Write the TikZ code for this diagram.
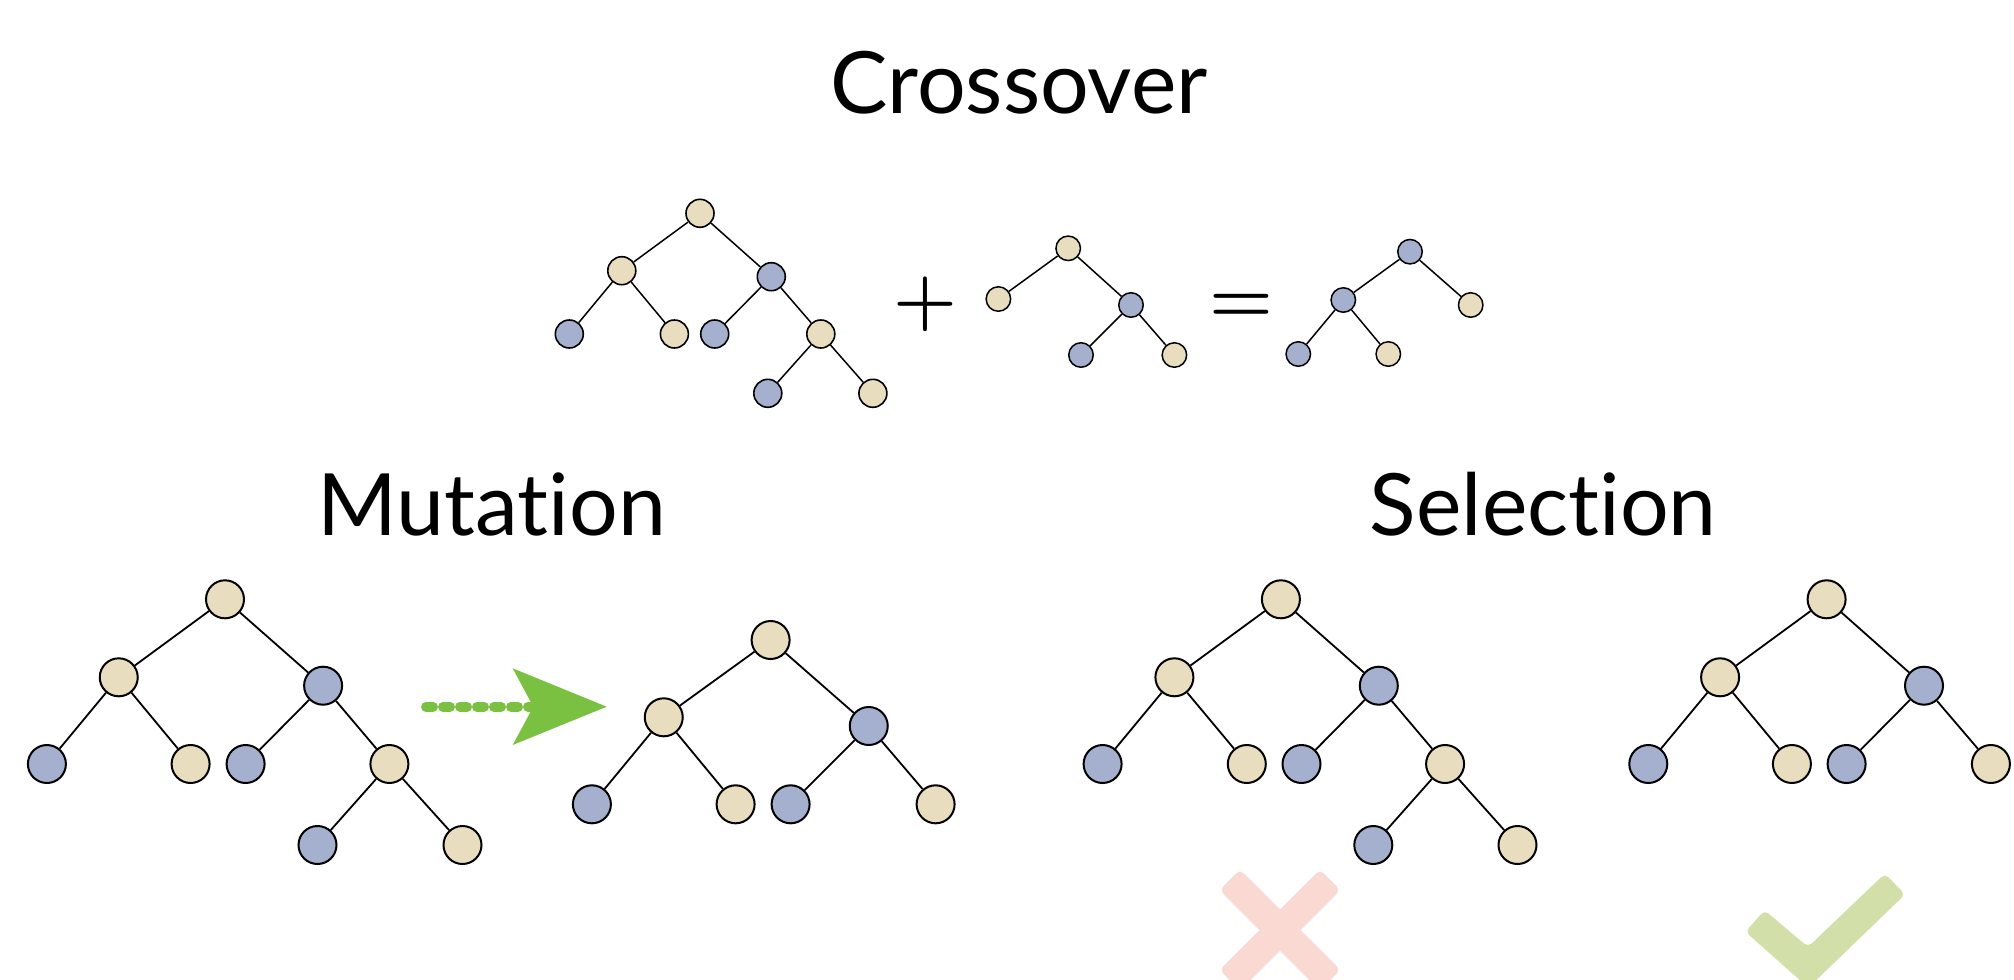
\documentclass[tikz,border=0pt]{standalone}
\usepackage{fontspec}
\setmainfont{Lato}[Ligatures={NoCommon,NoRare}, Contextuals={NoAlternate}]
\newfontfamily\lmfont{Latin Modern Roman}
\definecolor{beige}{RGB}{232,222,191}
\definecolor{bluegrey}{RGB}{165,176,206}
\definecolor{arrowgreen}{RGB}{122,193,66}
\definecolor{crosspink}{RGB}{250,217,211}
\definecolor{checkgreen}{RGB}{210,223,168}
\tikzset{
  nd/.style={circle, draw=black, inner sep=0pt},
  bg/.style={nd, fill=beige},
  bl/.style={nd, fill=bluegrey},
  bignode/.style={minimum size=38pt, line width=2pt},
  midnode/.style={minimum size=28pt, line width=1.6pt},
  smlnode/.style={minimum size=24.5pt, line width=1.5pt},
  lnk/.style={draw=black, line width=1.8pt},
  slnk/.style={draw=black, line width=1.5pt},
  title/.style={font=\fontsize{86}{100}\selectfont, anchor=base, inner sep=0pt},
  opsym/.style={font=\lmfont\bfseries\fontsize{73}{80}\selectfont, anchor=base, inner sep=0pt},
}
\begin{document}
\begin{tikzpicture}[x=1pt,y=-1pt]
\fill[white] (0,0) rectangle (2014,980);
\clip (0,0) rectangle (2014,980);

% titles
\node[title] (crossover) at (1019,113.3) {Crossover};
\node[title] (mutation) at (491.7,535) {Mutation};
\node[title] (selection) at (1543.3,535) {Selection};

% ---------- Crossover ----------
\begin{scope}[every node/.append style={midnode}]
\node[bg] (c1r) at (700,213.3) {};
\node[bg] (c1a) at (621.8,270.7) {};
\node[bl] (c1b) at (771.3,276.7) {};
\node[bl] (c1c) at (569.3,334) {};
\node[bg] (c1d) at (674.4,334) {};
\node[bl] (c1e) at (714.7,334) {};
\node[bg] (c1f) at (820.8,334) {};
\node[bl] (c1g) at (767.8,393.3) {};
\node[bg] (c1h) at (872.9,393.3) {};
\end{scope}
\draw[slnk] (c1r)--(c1a) (c1r)--(c1b) (c1a)--(c1c) (c1a)--(c1d)
  (c1b)--(c1e) (c1b)--(c1f) (c1f)--(c1g) (c1f)--(c1h);

\node[opsym] (plus) at (925.4,322) {+};

\begin{scope}[every node/.append style={smlnode}]
\node[bg] (c2r) at (1068.2,248.3) {};
\node[bg] (c2a) at (998.4,299) {};
\node[bl] (c2b) at (1131,305) {};
\node[bl] (c2c) at (1081,355) {};
\node[bg] (c2d) at (1174.4,355) {};
\end{scope}
\draw[slnk] (c2r)--(c2a) (c2r)--(c2b) (c2b)--(c2c) (c2b)--(c2d);

\node[opsym] (equals) at (1241.7,322) {=};

\begin{scope}[every node/.append style={smlnode}]
\node[bl] (c3r) at (1410,251.7) {};
\node[bl] (c3a) at (1343.3,300) {};
\node[bg] (c3b) at (1470.7,305) {};
\node[bl] (c3c) at (1298.3,354) {};
\node[bg] (c3d) at (1388.3,354) {};
\end{scope}
\draw[slnk] (c3r)--(c3a) (c3r)--(c3b) (c3a)--(c3c) (c3a)--(c3d);

% ---------- Mutation ----------
\begin{scope}[every node/.append style={bignode}]
\node[bg] (m1r) at (225,599.3) {};
\node[bg] (m1a) at (118.75,677.3) {};
\node[bl] (m1b) at (323.1,685.7) {};
\node[bl] (m1c) at (46.9,764) {};
\node[bg] (m1d) at (190.6,764) {};
\node[bl] (m1e) at (245.6,764) {};
\node[bg] (m1f) at (389.4,764) {};
\node[bl] (m1g) at (317.5,845) {};
\node[bg] (m1h) at (462.5,845) {};
\node[bg] (m2r) at (770.6,640) {};
\node[bg] (m2a) at (663.75,717.3) {};
\node[bl] (m2b) at (868.75,726) {};
\node[bl] (m2c) at (591.9,804.3) {};
\node[bg] (m2d) at (735.6,804.3) {};
\node[bl] (m2e) at (790.6,804.3) {};
\node[bg] (m2f) at (935.6,804.3) {};
\end{scope}
\draw[lnk] (m1r)--(m1a) (m1r)--(m1b) (m1a)--(m1c) (m1a)--(m1d)
  (m1b)--(m1e) (m1b)--(m1f) (m1f)--(m1g) (m1f)--(m1h);
\draw[lnk] (m2r)--(m2a) (m2r)--(m2b) (m2a)--(m2c) (m2a)--(m2d)
  (m2b)--(m2e) (m2b)--(m2f);

% arrow
\coordinate (as) at (426,706.7);
\coordinate (ae) at (530,706.7);
\draw[arrowgreen, line width=10pt, line cap=round, dash pattern=on 7pt off 10pt] (as) -- (ae);
\fill[arrowgreen] (512.7,668.3) -- (606.7,706.7) -- (512.7,745) -- (533.3,706.7) -- cycle;

% ---------- Selection ----------
\begin{scope}[every node/.append style={bignode}]
\node[bg] (s1r) at (1280.9,599.3) {};
\node[bg] (s1a) at (1174.4,677.3) {};
\node[bl] (s1b) at (1378.8,685.7) {};
\node[bl] (s1c) at (1102.6,764) {};
\node[bg] (s1d) at (1246.8,764) {};
\node[bl] (s1e) at (1301.5,764) {};
\node[bg] (s1f) at (1445.1,764) {};
\node[bl] (s1g) at (1373.3,845) {};
\node[bg] (s1h) at (1517.5,845) {};
\node[bg] (s2r) at (1826.6,599.3) {};
\node[bg] (s2a) at (1720.1,677.3) {};
\node[bl] (s2b) at (1924,685.7) {};
\node[bl] (s2c) at (1648.3,764) {};
\node[bg] (s2d) at (1791.9,764) {};
\node[bl] (s2e) at (1846.6,764) {};
\node[bg] (s2f) at (1990.9,764) {};
\end{scope}
\draw[lnk] (s1r)--(s1a) (s1r)--(s1b) (s1a)--(s1c) (s1a)--(s1d)
  (s1b)--(s1e) (s1b)--(s1f) (s1f)--(s1g) (s1f)--(s1h);
\draw[lnk] (s2r)--(s2a) (s2r)--(s2b) (s2a)--(s2c) (s2a)--(s2d)
  (s2b)--(s2e) (s2b)--(s2f);

% cross and check
\node[fill=crosspink, rounded corners=6pt, minimum width=142pt, minimum height=29pt, inner sep=0pt, rotate=45] (xa) at (1280,930) {};
\node[fill=crosspink, rounded corners=6pt, minimum width=142pt, minimum height=29pt, inner sep=0pt, rotate=-45] (xb) at (1280,930) {};
\fill[checkgreen, rounded corners=5pt] (1745.4,931.8) -- (1764.6,910.2) -- (1808,947) -- (1884.9,873.6) -- (1905.1,894.4) -- (1808.4,987.7) -- cycle;
\end{tikzpicture}
\end{document}
